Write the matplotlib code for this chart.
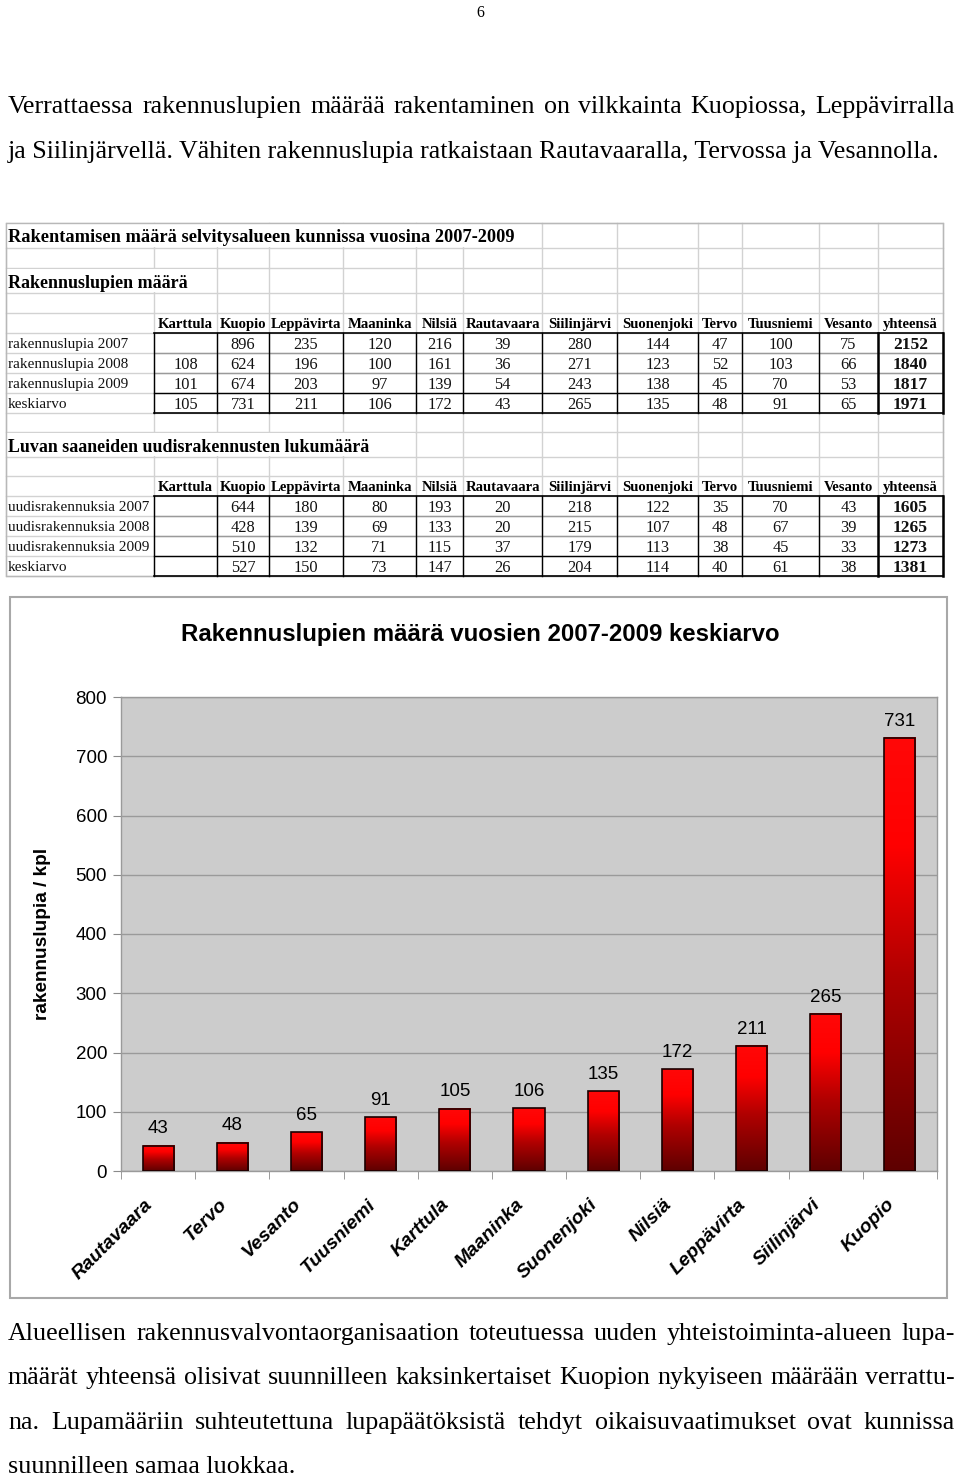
import numpy as np
import matplotlib
matplotlib.use("Agg")
import matplotlib.pyplot as plt
from matplotlib.colors import LinearSegmentedColormap
from matplotlib.patches import Rectangle
import matplotlib.transforms as mtransforms

# ---------------- data ----------------
page_number = "6"
intro_lines = [
    "Verrattaessa rakennuslupien määrää rakentaminen on vilkkainta Kuopiossa, Leppävirralla",
    "ja Siilinjärvellä. Vähiten rakennuslupia ratkaistaan Rautavaaralla, Tervossa ja Vesannolla.",
]
outro_lines = [
    "Alueellisen rakennusvalvontaorganisaation toteutuessa uuden yhteistoiminta-alueen lupa-",
    "määrät yhteensä olisivat suunnilleen kaksinkertaiset Kuopion nykyiseen määrään verrattu-",
    "na. Lupamääriin suhteutettuna lupapäätöksistä tehdyt oikaisuvaatimukset ovat kunnissa",
    "suunnilleen samaa luokkaa.",
]

table_title = "Rakentamisen määrä selvitysalueen kunnissa vuosina 2007-2009"
section1_title = "Rakennuslupien määrä"
section2_title = "Luvan saaneiden uudisrakennusten lukumäärä"
table_columns = ["Karttula", "Kuopio", "Leppävirta", "Maaninka", "Nilsiä", "Rautavaara",
                 "Siilinjärvi", "Suonenjoki", "Tervo", "Tuusniemi", "Vesanto", "yhteensä"]

section1_rows = ["rakennuslupia 2007", "rakennuslupia 2008", "rakennuslupia 2009", "keskiarvo"]
permits_2007 = [None, 896, 235, 120, 216, 39, 280, 144, 47, 100, 75, 2152]
permits_2008 = [108, 624, 196, 100, 161, 36, 271, 123, 52, 103, 66, 1840]
permits_2009 = [101, 674, 203, 97, 139, 54, 243, 138, 45, 70, 53, 1817]
permits_avg = [105, 731, 211, 106, 172, 43, 265, 135, 48, 91, 65, 1971]

section2_rows = ["uudisrakennuksia 2007", "uudisrakennuksia 2008", "uudisrakennuksia 2009", "keskiarvo"]
new_2007 = [None, 644, 180, 80, 193, 20, 218, 122, 35, 70, 43, 1605]
new_2008 = [None, 428, 139, 69, 133, 20, 215, 107, 48, 67, 39, 1265]
new_2009 = [None, 510, 132, 71, 115, 37, 179, 113, 38, 45, 33, 1273]
new_avg = [None, 527, 150, 73, 147, 26, 204, 114, 40, 61, 38, 1381]

chart_title = "Rakennuslupien määrä vuosien 2007-2009 keskiarvo"
chart_ylabel = "rakennuslupia / kpl"
chart_categories = ["Rautavaara", "Tervo", "Vesanto", "Tuusniemi", "Karttula", "Maaninka",
                    "Suonenjoki", "Nilsiä", "Leppävirta", "Siilinjärvi", "Kuopio"]
chart_values = [43, 48, 65, 91, 105, 106, 135, 172, 211, 265, 731]
chart_yticks = [0, 100, 200, 300, 400, 500, 600, 700, 800]

# ---------------- setup ----------------
W, H = 960, 1479
SERIF = ['Liberation Serif', 'DejaVu Serif']
SANS = ['Liberation Sans', 'DejaVu Sans']

fig = plt.figure(figsize=(W / 100, H / 100), dpi=100)
page = fig.add_axes([0, 0, 1, 1])
page.set_xlim(0, W)
page.set_ylim(H, 0)
page.axis('off')
fig.canvas.draw()
renderer = fig.canvas.get_renderer()


def text_width(s, **kw):
    t = page.text(0, 0, s, **kw)
    w = t.get_window_extent(renderer=renderer).width
    t.remove()
    return w


def fit_size(s, target, **kw):
    return 10.0 * target / text_width(s, fontsize=10, **kw)


def draw_line(s, x0, y, fs, right=None, **kw):
    if right is None:
        page.text(x0, y, s, fontsize=fs, va='baseline', ha='left', **kw)
        return
    words = s.split(' ')
    widths = [text_width(w, fontsize=fs, **kw) for w in words]
    gap = (right - x0 - sum(widths)) / (len(words) - 1)
    x = x0
    for w, wd in zip(words, widths):
        page.text(x, y, w, fontsize=fs, va='baseline', ha='left', **kw)
        x += wd + gap


# ---------------- page text ----------------
page.text(480, 17, page_number, ha='center', va='baseline', fontsize=11.5, family=SERIF)
body_fs = fit_size(intro_lines[1], 934, family=SERIF)
draw_line(intro_lines[0], 8, 113, body_fs, right=955, family=SERIF)
draw_line(intro_lines[1], 8, 158, body_fs, family=SERIF)
for i, line in enumerate(outro_lines):
    y = 1340 + 44.3 * i
    draw_line(line, 8, y, body_fs, right=(955 if i < len(outro_lines) - 1 else None), family=SERIF)

# ---------------- table ----------------
col_edges = [6, 154, 217, 269, 343, 416, 463, 542, 617, 698, 742, 819, 878, 943]
row_edges = [223, 248, 268, 293, 313, 333, 353, 373, 393, 413, 432, 457, 476, 496, 516, 536, 556, 576]
grid_c = '#d2d2d2'
for yv in row_edges:
    page.plot([col_edges[0], col_edges[-1]], [yv, yv], color=grid_c, lw=1, zorder=1)
for xv in col_edges:
    page.plot([xv, xv], [row_edges[0], row_edges[-1]], color=grid_c, lw=1, zorder=1)
# overflow text hides grid lines
for (x0, x1, r) in [(6, 542, 0), (6, 217, 2), (6, 416, 10)]:
    page.add_patch(Rectangle((x0 + 1, row_edges[r] + 0.8), x1 - x0 - 2, row_edges[r + 1] - row_edges[r] - 1.6,
                             facecolor='white', edgecolor='none', zorder=2))
page.add_patch(Rectangle((6, 223), 937, 353, fill=False, edgecolor='#b8b8b8', lw=1, zorder=3))

title_fs = fit_size(table_title, 507, family=SERIF, weight='bold')
sec1_fs = fit_size(section1_title, 181, family=SERIF, weight='bold')
sec2_fs = fit_size(section2_title, 363, family=SERIF, weight='bold')
page.text(8, 236, table_title, fontsize=title_fs, weight='bold', family=SERIF, va='center_baseline', zorder=4)
page.text(8, 281, section1_title, fontsize=sec1_fs, weight='bold', family=SERIF, va='center_baseline', zorder=4)
page.text(8, 445, section2_title, fontsize=sec2_fs, weight='bold', family=SERIF, va='center_baseline', zorder=4)

hdr_fs = fit_size("Karttula", 55, family=SERIF, weight='bold')
lab_fs = fit_size("rakennuslupia 2007", 120, family=SERIF)
val_fs = 11.8


def draw_block(header_row, first_data_row, row_labels, rows):
    yh = (row_edges[header_row] + row_edges[header_row + 1]) / 2
    for j, name in enumerate(table_columns):
        xc = (col_edges[j + 1] + col_edges[j + 2]) / 2
        page.text(xc, yh, name, ha='center', va='center_baseline', fontsize=hdr_fs,
                  weight='bold', family=SERIF, zorder=4)
    top = row_edges[first_data_row]
    bot = row_edges[first_data_row + len(rows)]
    for i, (lab, vals) in enumerate(zip(row_labels, rows)):
        y0 = row_edges[first_data_row + i]
        y1 = row_edges[first_data_row + i + 1]
        yc = (y0 + y1) / 2
        page.text(8, yc, lab, ha='left', va='center_baseline', fontsize=lab_fs, family=SERIF,
                  color='#111111', zorder=4)
        for j, v in enumerate(vals):
            if v is None:
                continue
            xc = (col_edges[j + 1] + col_edges[j + 2]) / 2
            bold = j == len(vals) - 1
            page.text(xc, yc, str(v), ha='center', va='center_baseline',
                      fontsize=val_fs + (0.8 if bold else 0), weight='bold' if bold else 'normal',
                      family=SERIF, color='#111111', zorder=4)
        if 0 < i:
            c = 'black' if i == len(rows) - 1 else '#9a9a9a'
            page.plot([col_edges[1], col_edges[-1]], [y0, y0], color=c, lw=1, zorder=3)
    page.plot([col_edges[1], col_edges[-1]], [top, top], color='black', lw=1.2, zorder=3)
    page.plot([col_edges[1], col_edges[-1]], [bot, bot], color='black', lw=1.2, zorder=3)
    for xv in col_edges[1:]:
        lw = 1.8 if xv in (col_edges[-2], col_edges[-1]) else 1.0
        page.plot([xv, xv], [top, bot], color='black', lw=lw, zorder=3)


draw_block(4, 5, section1_rows, [permits_2007, permits_2008, permits_2009, permits_avg])
draw_block(12, 13, section2_rows, [new_2007, new_2008, new_2009, new_avg])

# ---------------- chart ----------------
page.add_patch(Rectangle((10, 597), 937, 701, facecolor='white', edgecolor='#a8a8a8', lw=1.5, zorder=1))
ct_fs = fit_size(chart_title, 600, family=SANS, weight='bold')
page.text(480.5, 634, chart_title, ha='center', va='center', fontsize=ct_fs, weight='bold',
          family=SANS, zorder=4)

ax = fig.add_axes([121 / W, 1 - 1171 / H, (937 - 121) / W, (1171 - 697) / H])
ax.set_facecolor('#cccccc')
xpos = np.arange(len(chart_categories))
bars = ax.bar(xpos, chart_values, width=0.42, facecolor='none', edgecolor='#1a0000', lw=1.2, zorder=4)
cmap = LinearSegmentedColormap.from_list(
    'barfill', [(0.0, '#5e0000'), (0.45, '#b00000'), (0.75, '#ff0000'), (1.0, '#ff0808')])
grad = np.linspace(0, 1, 256).reshape(-1, 1)
for b in bars:
    ax.imshow(grad, extent=[b.get_x(), b.get_x() + b.get_width(), 0, b.get_height()],
              origin='lower', aspect='auto', cmap=cmap, zorder=3, interpolation='bilinear')
ax.set_xlim(-0.5, len(chart_categories) - 0.5)
ax.set_ylim(chart_yticks[0], chart_yticks[-1])
ax.set_yticks(chart_yticks)
ax.yaxis.grid(True, color='#9a9a9a', lw=1)
ax.set_axisbelow(True)
for s in ax.spines.values():
    s.set_color('#9a9a9a')
    s.set_linewidth(1)
ax.tick_params(axis='y', length=6, color='#8a8a8a', labelsize=13.5, pad=4)
for lab in ax.get_yticklabels():
    lab.set_family(SANS)
ax.set_xticks(xpos)
ax.set_xticklabels(chart_categories, rotation=45, ha='right', va='top', rotation_mode='anchor',
                   fontsize=14, fontweight='bold', fontstyle='italic', family=SANS)
ax.tick_params(axis='x', which='major', length=0, pad=18)
ax.set_xticks(np.arange(-0.5, len(chart_categories), 1), minor=True)
ax.tick_params(axis='x', which='minor', length=6, color='#8a8a8a')
shift = mtransforms.ScaledTranslation(-14 / 100, 0, fig.dpi_scale_trans)
for lab in ax.get_xticklabels():
    lab.set_transform(lab.get_transform() + shift)

yl_fs = fit_size(chart_ylabel, 172, family=SANS, weight='bold')
ax.set_ylabel(chart_ylabel, fontsize=yl_fs, fontweight='bold', family=SANS, va='center')
ax.yaxis.set_label_coords((43 - 121) / (937 - 121), 0.5)

for xi, v in zip(xpos, chart_values):
    ax.annotate(str(v), (xi, v), xytext=(0, 6), textcoords='offset points', ha='center',
                va='bottom', fontsize=13.5, family=SANS, zorder=5)

fig.savefig('out.png', dpi=100)
